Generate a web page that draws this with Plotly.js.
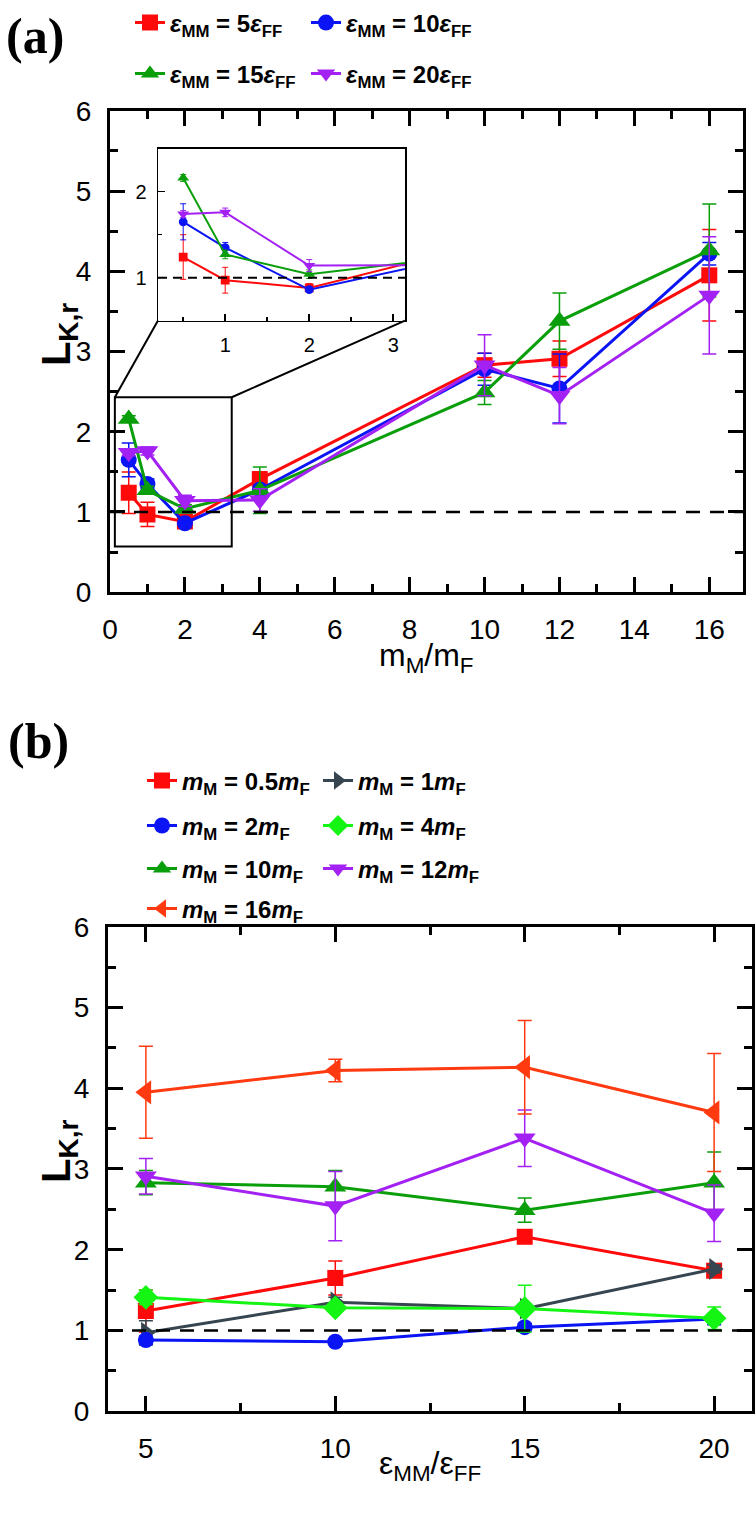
<!DOCTYPE html>
<html>
<head>
<meta charset="utf-8">
<script src="https://cdn.plot.ly/plotly-3.0.1.min.js"></script>
<style>body{margin:0;background:#fff}</style>
</head>
<body>
<div id="myGraph" style="width:756px;height:1518px"></div>
<script>
// x values of panel (a) and (b)
const mRatio = [0.5, 1, 2, 4, 10, 12, 16];
const epsRatio = [5, 10, 15, 20];

// L_K,r for each eps_MM/eps_FF series, ordered as mRatio
const L_eps5  = [1.24, 0.97, 0.88, 1.41, 2.83, 2.91, 3.95];
const L_eps10 = [1.65, 1.35, 0.86, 1.28, 2.78, 2.54, 4.22];
const L_eps15 = [2.16, 1.27, 1.04, 1.27, 2.49, 3.38, 4.26];
const L_eps20 = [1.74, 1.76, 1.14, 1.15, 2.83, 2.45, 3.70];

// error bars
const E_eps5  = [0.26, 0.15, 0.05, 0.09, 0.15, 0.22, 0.57];
const E_eps10 = [0.21, 0.06, 0.03, 0.05, 0.20, 0.43, 0.14];
const E_eps15 = [0.04, 0.05, 0.05, 0.29, 0.15, 0.35, 0.58];
const E_eps20 = [0.04, 0.05, 0.07, 0.14, 0.38, 0.35, 0.73];

const epsNames = ['5', '10', '15', '20'];
const mNames = ['0.5', '1', '2', '4', '10', '12', '16'];

const W = 756, H = 1518;
const FONT = 'Liberation Sans, Arial, sans-serif';

const epsColors = ['#ff0a0a', '#0a14f5', '#0a9e0a', '#a321f2'];
const epsSymbols = ['square', 'circle', 'triangle-up', 'triangle-down'];
const epsSizes = [16, 16, 19, 19];
const mColors = ['#ff0a0a', '#36454f', '#0a14f5', '#14f514', '#0a9e0a', '#a321f2', '#ff3a10'];
const mSymbols = ['square', 'triangle-right', 'circle', 'diamond', 'triangle-up', 'triangle-down', 'triangle-left'];
const mSizes = [16, 19, 16, 19, 19, 19, 21];

const Ls = [L_eps5, L_eps10, L_eps15, L_eps20];
const Es = [E_eps5, E_eps10, E_eps15, E_eps20];

// pixel -> paper
function px(p) { return p / W; }
function py(p) { return 1 - p / H; }

let data = [];
let legends = {};

// legend spots (left x, centre y in pixels)
const legA = [[130, 21], [306, 21], [130, 72], [306, 72]];
const legB = [[142, 780], [318, 780], [142, 825], [318, 825], [142, 868], [318, 868], [142, 908]];

function legKey(n) { return n === 0 ? 'legend' : 'legend' + (n + 1); }
function addLegend(n, pos) {
    legends[legKey(n)] = {
        x: px(pos[0]), y: py(pos[1]),
        xanchor: 'left', yanchor: 'middle',
        bgcolor: 'rgba(0,0,0,0)',
        font: {family: FONT, size: 24, color: 'black'}
    };
}

// panel (a) main + inset
for (let i = 0; i < 4; i++) {
    addLegend(i, legA[i]);
    data.push({
        type: 'scatter', mode: 'lines+markers',
        name: '<b><i>ε</i><sub>MM</sub> = ' + epsNames[i] + '<i>ε</i><sub>FF</sub></b>',
        x: mRatio, y: Ls[i],
        error_y: {type: 'data', array: Es[i], color: epsColors[i], thickness: 1.5, width: 7},
        line: {color: epsColors[i], width: 3},
        marker: {symbol: epsSymbols[i], size: epsSizes[i], color: epsColors[i]},
        xaxis: 'x', yaxis: 'y', legend: legKey(i)
    });
    data.push({
        type: 'scatter', mode: 'lines+markers', showlegend: false,
        x: mRatio, y: Ls[i],
        error_y: {type: 'data', array: Es[i], color: epsColors[i], thickness: 1, width: 3},
        line: {color: epsColors[i], width: 2},
        marker: {symbol: epsSymbols[i], size: epsSizes[i] * 0.55, color: epsColors[i]},
        xaxis: 'x3', yaxis: 'y3'
    });
}

// panel (b): same values seen per m_M/m_F
for (let j = 0; j < mRatio.length; j++) {
    addLegend(4 + j, legB[j]);
    data.push({
        type: 'scatter', mode: 'lines+markers',
        name: '<b><i>m</i><sub>M</sub> = ' + mNames[j] + '<i>m</i><sub>F</sub></b>',
        x: epsRatio, y: Ls.map(s => s[j]),
        error_y: {type: 'data', array: Es.map(s => s[j]), color: mColors[j], thickness: 1.5, width: 7},
        line: {color: mColors[j], width: 3},
        marker: {symbol: mSymbols[j], size: mSizes[j], color: mColors[j]},
        xaxis: 'x2', yaxis: 'y2', legend: legKey(4 + j)
    });
}

function mainAxis(extra) {
    return Object.assign({
        showline: true, linewidth: 3, linecolor: 'black', mirror: 'ticks',
        ticks: 'inside', ticklen: 15, tickwidth: 3, tickcolor: 'black',
        showgrid: false, zeroline: false, ticklabelstandoff: 10,
        tickfont: {family: FONT, size: 28, color: 'black'}
    }, extra);
}

// zoom box in panel (a) and inset frame
const zoomBox = {x0: 0.13, x1: 3.25, y0: 0.57, y1: 2.43};
const xaDom = [px(110), px(743)], yaDom = [py(591), py(109)];
const xaRange = [0, 16.9], yaRange = [0, 6];
const insetX = [px(158), px(405)], insetY = [py(319), py(147)];
function aX(v) { return xaDom[0] + (v - xaRange[0]) / (xaRange[1] - xaRange[0]) * (xaDom[1] - xaDom[0]); }
function aY(v) { return yaDom[0] + (v - yaRange[0]) / (yaRange[1] - yaRange[0]) * (yaDom[1] - yaDom[0]); }

let layout = {
    width: W, height: H,
    margin: {l: 0, r: 0, t: 0, b: 0},
    paper_bgcolor: 'white', plot_bgcolor: 'white',
    font: {family: FONT, color: 'black'},
    xaxis: mainAxis({domain: xaDom, range: xaRange, dtick: 2, tick0: 0, anchor: 'y',
        minor: {dtick: 1, ticks: 'inside', ticklen: 8, tickwidth: 3, tickcolor: 'black'}}),
    yaxis: mainAxis({domain: yaDom, range: yaRange, dtick: 1, tick0: 0, anchor: 'x',
        minor: {dtick: 0.5, ticks: 'inside', ticklen: 8, tickwidth: 3, tickcolor: 'black'}}),
    xaxis2: mainAxis({domain: [px(108), px(752)], range: [4, 21], dtick: 5, tick0: 5, anchor: 'y2',
        minor: {dtick: 2.5, tick0: 5, ticks: 'inside', ticklen: 8, tickwidth: 3, tickcolor: 'black'}}),
    yaxis2: mainAxis({domain: [py(1411), py(926)], range: [0, 6], dtick: 1, tick0: 0, anchor: 'x2',
        minor: {dtick: 0.5, ticks: 'inside', ticklen: 8, tickwidth: 3, tickcolor: 'black'}}),
    xaxis3: {domain: insetX, range: [0.2, 3.14], dtick: 1, tick0: 0, anchor: 'y3',
        showline: true, linewidth: 1.5, linecolor: 'black', mirror: true,
        ticks: 'inside', ticklen: 7, tickwidth: 1.5, tickcolor: 'black', ticklabelstandoff: 6,
        showgrid: false, zeroline: false, tickfont: {family: FONT, size: 20, color: 'black'},
        minor: {dtick: 0.5, ticks: 'inside', ticklen: 4, tickwidth: 1.5, tickcolor: 'black'}},
    yaxis3: {domain: insetY, range: [0.5, 2.5], dtick: 1, tick0: 0, anchor: 'x3',
        showline: true, linewidth: 1.5, linecolor: 'black', mirror: true,
        ticks: 'inside', ticklen: 7, tickwidth: 1.5, tickcolor: 'black', ticklabelstandoff: 6,
        showgrid: false, zeroline: false, tickfont: {family: FONT, size: 20, color: 'black'},
        minor: {dtick: 0.5, ticks: 'inside', ticklen: 4, tickwidth: 1.5, tickcolor: 'black'}},
    shapes: [
        {type: 'line', xref: 'x domain', yref: 'y', x0: 0, x1: 1, y0: 1, y1: 1,
            line: {color: 'black', width: 2.5, dash: '14px,10px'}},
        {type: 'line', xref: 'x2 domain', yref: 'y2', x0: 0, x1: 1, y0: 1, y1: 1,
            line: {color: 'black', width: 2.5, dash: '14px,10px'}},
        {type: 'line', xref: 'x3 domain', yref: 'y3', x0: 0, x1: 1, y0: 1, y1: 1,
            line: {color: 'black', width: 2, dash: '9px,6px'}},
        {type: 'rect', xref: 'x', yref: 'y', x0: zoomBox.x0, x1: zoomBox.x1, y0: zoomBox.y0, y1: zoomBox.y1,
            line: {color: 'black', width: 2}},
        {type: 'line', xref: 'paper', yref: 'paper', x0: aX(zoomBox.x0), y0: aY(zoomBox.y1),
            x1: insetX[0], y1: insetY[0], line: {color: 'black', width: 2}},
        {type: 'line', xref: 'paper', yref: 'paper', x0: aX(zoomBox.x1), y0: aY(zoomBox.y1),
            x1: insetX[1], y1: insetY[0], line: {color: 'black', width: 2}}
    ],
    annotations: [
        {text: '<b>(a)</b>', xref: 'paper', yref: 'paper', x: px(4), y: py(34), xanchor: 'left', yanchor: 'middle',
            showarrow: false, font: {family: 'Liberation Serif, Times New Roman, serif', size: 50}},
        {text: '<b>(b)</b>', xref: 'paper', yref: 'paper', x: px(6), y: py(740), xanchor: 'left', yanchor: 'middle',
            showarrow: false, font: {family: 'Liberation Serif, Times New Roman, serif', size: 50}},
        {text: '<b>L<sub>K,r</sub></b>', xref: 'paper', yref: 'paper', x: px(32), y: py(300), textangle: -90,
            showarrow: false, font: {family: FONT, size: 40}},
        {text: '<b>L<sub>K,r</sub></b>', xref: 'paper', yref: 'paper', x: px(32), y: py(1185), textangle: -90,
            showarrow: false, font: {family: FONT, size: 40}},
        {text: 'm<sub>M</sub>/m<sub>F</sub>', xref: 'paper', yref: 'paper', x: px(426), y: py(656),
            showarrow: false, font: {family: FONT, size: 32}},
        {text: 'ε<sub>MM</sub>/ε<sub>FF</sub>', xref: 'paper', yref: 'paper', x: px(430), y: py(1488),
            showarrow: false, font: {family: FONT, size: 32}}
    ]
};
Object.assign(layout, legends);

Plotly.newPlot('myGraph', data, layout, {displayModeBar: false, staticPlot: true});
</script>
</body>
</html>
